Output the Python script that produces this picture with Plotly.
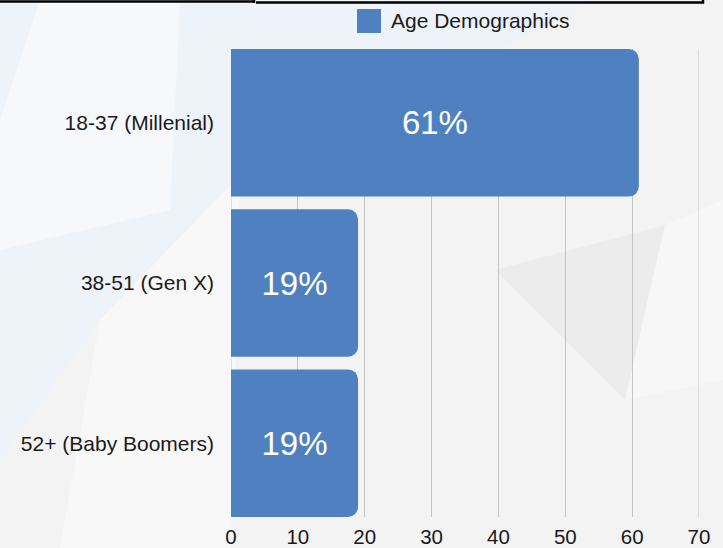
import plotly.graph_objects as go

categories = ["18-37 (Millenial)", "38-51 (Gen X)", "52+ (Baby Boomers)"]
values = [61, 19, 19]
series_name = "Age Demographics"
x_ticks = [0, 10, 20, 30, 40, 50, 60, 70]

BAR = "#4f81c1"
GRID = "#c4c4c4"
FONT = "Liberation Sans, Arial, Helvetica, sans-serif"

W, H = 723, 548
L, R, T, B = 231, 24, 49, 31
PW, PH = W - L - R, H - T - B


def px(x):
    return (x - L) / PW


def py(y):
    return (H - B - y) / PH


fig = go.Figure()
fig.add_trace(go.Bar(
    y=categories, x=values, orientation="h", name=series_name,
    marker=dict(color=BAR, line=dict(width=0)),
    texttemplate="%{x}%", textposition="inside", insidetextanchor="middle",
    textangle=0, constraintext="none",
    textfont=dict(size=33, color="white", family=FONT),
    showlegend=False, hoverinfo="skip",
))

gap = 0.079
half = (1 - gap) / 2

shapes = []
# background pattern
shapes.append(dict(type="path", xref="paper", yref="paper", layer="below", line=dict(width=0),
                   fillcolor="#eef2f9",
                   path=f"M{px(0)},{py(0)} L{px(600)},{py(0)} L{px(240)},{py(175)} L{px(100)},{py(320)} L{px(0)},{py(460)} Z"))
shapes.append(dict(type="path", xref="paper", yref="paper", layer="below", line=dict(width=0),
                   fillcolor="#f6f8fc",
                   path=f"M{px(40)},{py(0)} L{px(180)},{py(0)} L{px(170)},{py(210)} L{px(0)},{py(250)} L{px(0)},{py(120)} Z"))
shapes.append(dict(type="path", xref="paper", yref="paper", layer="below", line=dict(width=0),
                   fillcolor="#f8f8f8",
                   path=f"M{px(100)},{py(320)} L{px(240)},{py(175)} L{px(231)},{py(548)} L{px(60)},{py(548)} Z"))
shapes.append(dict(type="path", xref="paper", yref="paper", layer="below", line=dict(width=0),
                   fillcolor="#ececec",
                   path=f"M{px(495)},{py(270)} L{px(665)},{py(225)} L{px(625)},{py(400)} Z"))
shapes.append(dict(type="path", xref="paper", yref="paper", layer="below", line=dict(width=0),
                   fillcolor="#f7f7f7",
                   path=f"M{px(665)},{py(225)} L{px(723)},{py(200)} L{px(723)},{py(380)} L{px(625)},{py(400)} Z"))
# gridlines at the axis ends
for xv in (x_ticks[0], x_ticks[-1]):
    shapes.append(dict(type="line", xref="x", yref="paper", x0=xv, x1=xv, y0=0, y1=1,
                       line=dict(color=GRID, width=1), layer="below"))
# top border remnant
shapes.append(dict(type="path", xref="paper", yref="paper", line=dict(color="black", width=2.5),
                   path=f"M{px(-5)},{py(1.5)} L{px(254)},{py(1.5)} M{px(256)},{py(2.5)} L{px(703)},{py(2.5)} L{px(703)},{py(-10)} M{px(254)},{py(-10)} L{px(254)},{py(3)}"))
# legend swatch
shapes.append(dict(type="rect", xref="paper", yref="paper", x0=px(357), x1=px(381), y0=py(33), y1=py(9),
                   fillcolor=BAR, line=dict(width=0)))

fig.update_layout(
    width=W, height=H,
    margin=dict(l=L, r=R, t=T, b=B, autoexpand=False),
    paper_bgcolor="#f3f3f3",
    plot_bgcolor="rgba(0,0,0,0)",
    bargap=gap,
    barcornerradius=10,
    font=dict(family=FONT, size=21, color="#1a1a1a"),
    shapes=shapes,
    annotations=[dict(text=series_name, xref="paper", yref="paper", x=px(389), y=py(21),
                      xanchor="left", yanchor="middle", showarrow=False,
                      font=dict(size=21, color="#1a1a1a", family=FONT))],
    xaxis=dict(range=[0, 70], tickvals=x_ticks, showgrid=True, gridcolor=GRID, gridwidth=1,
               zeroline=False, showline=False, ticks="", tickfont=dict(size=20.5),
               ticklabelstandoff=5, fixedrange=True, automargin=False),
    yaxis=dict(categoryorder="array", categoryarray=categories,
               range=[2 + half, -half], showgrid=False, zeroline=False, showline=False,
               ticks="", ticklabelstandoff=16, tickfont=dict(size=21), automargin=False,
               fixedrange=True),
)

fig.write_html("out.html", config={"displayModeBar": False},
               post_script="document.body.style.margin='0';document.body.style.overflow='hidden';")
